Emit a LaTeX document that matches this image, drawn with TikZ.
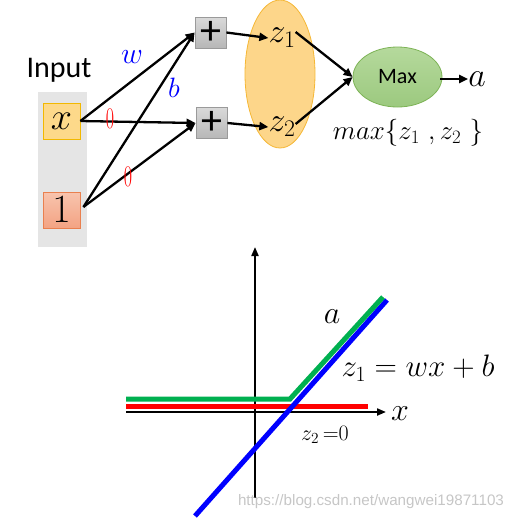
\RequirePackage{fix-cm}
\documentclass[tikz,border=0pt]{standalone}
\usepackage{fontspec}
\setsansfont{Carlito}
\newfontfamily\wmfont{Liberation Sans}
\usetikzlibrary{arrows.meta,shapes.geometric}
\definecolor{xfill}{HTML}{FDD98A}
\definecolor{xedge}{HTML}{F2B800}
\definecolor{onetop}{HTML}{F8C4AE}
\definecolor{onebot}{HTML}{F3A383}
\definecolor{oneedge}{HTML}{E9804F}
\definecolor{plustop}{HTML}{D9D9D9}
\definecolor{plusbot}{HTML}{B7B7B7}
\definecolor{plusedge}{HTML}{9A9A9A}
\definecolor{ellfill}{HTML}{FDD68A}
\definecolor{elledge}{HTML}{F5B735}
\definecolor{maxtop}{HTML}{B5D99C}
\definecolor{maxbot}{HTML}{9CC97F}
\definecolor{maxedge}{HTML}{7DB356}
\definecolor{pgreen}{HTML}{00B050}
\definecolor{pred}{HTML}{FF0000}
\definecolor{pblue}{HTML}{0000FF}
\begin{document}
\begin{tikzpicture}[x=1pt,y=-1pt,
  conn/.style={line width=2.3pt,-{Triangle[length=9pt,width=8pt]}},
  axis/.style={line width=2pt,-{Triangle[length=9pt,width=7pt]}},
  inbox/.style={draw,line width=0.8pt,minimum width=37pt,minimum height=36pt,inner sep=0pt},
  plusbox/.style={draw=plusedge,line width=0.8pt,top color=plustop,bottom color=plusbot,minimum width=31pt,minimum height=31pt,inner sep=0pt,font=\sffamily\fontsize{42}{44}\selectfont},
  mathlbl/.style={inner sep=0pt,font=\fontsize{34}{36}\selectfont},
  zerolbl/.style={text=pred,inner sep=0pt,font=\fontsize{30}{32}\selectfont},
  plotline/.style={line width=5pt}]
\useasboundingbox (0,0) rectangle (520,520);
% input column
\fill[gray!20] (38,92) rectangle (87,247);
\node[inner sep=0pt,font=\sffamily\fontsize{30}{32}\selectfont] (inp) at (59,70) {Input};
\node[inbox,draw=xedge,fill=xfill,font=\fontsize{38}{40}\selectfont] (x) at (61.5,121) {$x$};
\node[inbox,draw=oneedge,top color=onetop,bottom color=onebot,font=\fontsize{40}{42}\selectfont] (one) at (61.5,210) {$1$};
% plus boxes
\node[plusbox] (p1) at (210.5,32.5) {\raisebox{-1.5pt}{+}};
\node[plusbox] (p2) at (211.5,123) {\raisebox{-1.5pt}{+}};
% z ellipse
\node[ellipse,draw=elledge,fill=ellfill,line width=0.8pt,minimum width=70pt,minimum height=148pt] (ell) at (280,74) {};
\node[mathlbl] (z1) at (282,38) {$z_1$};
\node[mathlbl] (z2) at (282,127) {$z_2$};
% max
\node[ellipse,draw=maxedge,top color=maxtop,bottom color=maxbot,line width=0.8pt,minimum width=89pt,minimum height=60pt,font=\sffamily\fontsize{22}{24}\selectfont] (mx) at (397.5,77) {Max};
\node[mathlbl] (a) at (477,79) {$a$};
\node[inner sep=0pt,font=\fontsize{27}{29}\selectfont] (mxf) at (408,133) {$max\{z_1\ ,z_2\ \}$};
% connectors
\draw[conn] (x.east) -- (p1.west);
\draw[conn] (x.east) -- (p2.west);
\draw[conn] (one.east) ++(3,-3) coordinate (o1) -- (p1.west);
\draw[conn] (o1) -- (p2.west);
\draw[conn] (p1.east) -- (z1.west);
\draw[conn] (p2.east) -- (z2.west);
\draw[conn] (z1.east) ++(0,-6) -- (mx.west);
\draw[conn] (z2.east) ++(0,-3) -- (mx.west);
\draw[conn] (mx.east) ++(-2,2) -- (a.west);
% weight labels
\node[text=pblue,inner sep=0pt,font=\fontsize{30}{32}\selectfont] (w) at (132,57) {$w$};
\node[text=pblue,inner sep=0pt,font=\fontsize{28}{30}\selectfont] (b) at (174,88) {$b$};
\node[zerolbl] (w0a) at (110,119) {\scalebox{0.6}[1]{0}};
\node[zerolbl] (w0b) at (128,177) {\scalebox{0.6}[1]{0}};
% plot
\coordinate (yb) at (255,498);
\coordinate (yt) at (255,247);
\coordinate (xl) at (126,412);
\coordinate (xr) at (386,412);
\draw[axis] (yb) -- (yt);
\draw[axis] (xl) -- (xr);
\draw[plotline,pred] (126,406) -- (368,406);
\draw[plotline,pblue] (195,516) -- (387,300);
\draw[plotline,pgreen] (126,399) -- (290,399) -- (383,297);
\node[inner sep=0pt,font=\fontsize{32}{34}\selectfont] (pa) at (332,317) {$a$};
\node[inner sep=0pt,font=\fontsize{31}{33}\selectfont] (pz1) at (418,368) {$z_1 = wx + b$};
\node[inner sep=0pt,font=\fontsize{32}{34}\selectfont] (px) at (400,414) {$x$};
\node[inner sep=0pt,font=\fontsize{22}{24}\selectfont] (pz2) at (325,435) {$z_2$\,=0};
\node[inner sep=0pt,text=gray!45,font=\wmfont\fontsize{15.2}{17}\selectfont] (wm) at (371,502) {https://blog.csdn.net/wangwei19871103};
\end{tikzpicture}
\end{document}
